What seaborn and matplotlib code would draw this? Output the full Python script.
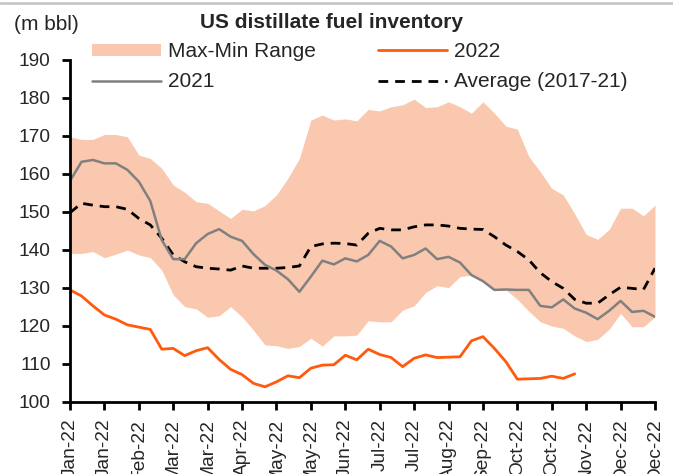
import matplotlib
matplotlib.use("Agg")
import matplotlib.pyplot as plt
from matplotlib.lines import Line2D
from matplotlib.patches import Patch
import numpy as np
import pandas as pd
import seaborn as sns

sns.set_style("ticks")
plt.rcParams["font.family"] = ["Liberation Sans", "DejaVu Sans"]

# weekly values, m bbl
y2022 = [129.5, 127.9, 125.3, 122.9, 121.8, 120.3, 119.7, 119.1, 113.9, 114.1,
         112.2, 113.5, 114.3, 111.2, 108.6, 107.2, 104.9, 104.0, 105.3, 106.9,
         106.4, 108.9, 109.7, 109.8, 112.3, 111.1, 113.9, 112.5, 111.7, 109.3,
         111.5, 112.4, 111.7, 111.8, 111.9, 116.1, 117.2, 114.1, 110.6, 106.0,
         106.1, 106.2, 106.8, 106.2, 107.4]
y2021 = [158.2, 163.2, 163.7, 162.8, 162.8, 161.1, 158.0, 152.9, 142.6, 137.6,
         137.6, 141.8, 144.2, 145.5, 143.5, 142.4, 138.9, 136.1, 134.6, 132.3,
         129.0, 133.0, 137.2, 136.2, 137.8, 137.0, 138.7, 142.4, 140.9, 137.8,
         138.7, 140.4, 137.6, 138.2, 136.7, 133.4, 131.8, 129.5, 129.6, 129.5,
         129.5, 125.3, 124.9, 127.0, 124.6, 123.5, 121.8, 124.0, 126.6, 123.7,
         124.0, 122.4]
avg = [149.8, 152.3, 151.8, 151.4, 151.4, 150.7, 148.3, 146.6, 143.1, 138.7,
       136.9, 135.6, 135.2, 135.0, 134.7, 135.8, 135.2, 135.2, 135.2, 135.4,
       135.8, 140.9, 141.6, 141.8, 141.7, 141.3, 144.4, 145.7, 145.3, 145.3,
       146.1, 146.6, 146.6, 146.3, 145.7, 145.5, 145.4, 143.5, 141.3, 139.6,
       137.4, 134.0, 131.7, 129.9, 127.0, 126.0, 126.0, 128.2, 130.2, 129.9,
       129.6, 135.2]
rng_max = [169.8, 169.1, 169.1, 170.4, 170.4, 169.8, 165.0, 164.1, 161.5, 157.1,
           155.2, 152.7, 152.3, 150.3, 148.3, 150.7, 150.3, 151.7, 154.5, 158.9,
           164.1, 174.2, 175.5, 174.2, 174.5, 174.0, 177.0, 176.6, 177.7, 178.2,
           179.7, 177.5, 177.7, 179.0, 177.7, 176.0, 179.0, 176.0, 172.6, 171.8,
           164.6, 160.6, 156.2, 154.5, 149.5, 144.1, 142.8, 145.4, 151.0, 151.0,
           149.0, 151.8]
rng_min = [139.1, 139.1, 139.6, 138.0, 138.9, 140.0, 138.7, 138.0, 134.7, 128.2,
           125.1, 124.5, 122.3, 122.7, 125.1, 122.4, 118.9, 115.0, 114.8, 114.1,
           114.6, 116.8, 114.7, 117.4, 117.4, 117.6, 121.4, 121.1, 121.1, 124.2,
           125.3, 128.8, 130.6, 130.1, 133.0, 133.4, 131.8, 129.5, 129.5, 127.0,
           123.9, 121.1, 120.0, 119.4, 117.4, 115.9, 116.5, 119.1, 123.3, 119.8,
           119.8, 122.4]
tick_labels = ["Jan-22", "Jan-22", "Feb-22", "Mar-22", "Mar-22", "Apr-22",
               "May-22", "May-22", "Jun-22", "Jul-22", "Jul-22", "Aug-22",
               "Sep-22", "Oct-22", "Oct-22", "Nov-22", "Dec-22", "Dec-22"]

weeks = np.arange(len(y2021))
df = pd.DataFrame({"week": weeks, "y2021": y2021, "avg": avg,
                   "max": rng_max, "min": rng_min})
df22 = pd.DataFrame({"week": np.arange(len(y2022)), "y2022": y2022})

c_fill = "#FAC8AE"
c_22 = "#FF5A0E"
c_21 = "#808080"
dash = (0, (3.5, 2.5))

fig = plt.figure(figsize=(6.73, 4.74), dpi=100)
ax = fig.add_axes([70 / 673, 1 - 402 / 474, 585 / 673, 342 / 474])

ax.fill_between(df["week"], df["min"], df["max"], color=c_fill, lw=0)
sns.lineplot(data=df, x="week", y="avg", ax=ax, color="black", lw=2.0,
             linestyle=dash)
sns.lineplot(data=df, x="week", y="y2021", ax=ax, color=c_21, lw=1.8)
sns.lineplot(data=df22, x="week", y="y2022", ax=ax, color=c_22, lw=2.0)

ax.set_xlim(0, 51)
ax.set_ylim(100, 190)
ax.set_yticks(range(100, 191, 10))
ax.set_xticks(range(0, 52, 3))
ax.set_xticklabels(tick_labels, rotation=90)
ax.tick_params(axis="both", labelsize=13.8, width=2, length=6, color="black")
ax.tick_params(axis="y", pad=8)
ax.tick_params(axis="x", pad=6)
ax.set_xlabel("")
ax.set_ylabel("")
sns.despine(ax=ax)
for s in ["left", "bottom"]:
    ax.spines[s].set_linewidth(2)
    ax.spines[s].set_color("black")

handles = [Patch(color=c_fill, lw=0),
           Line2D([], [], color=c_21, lw=1.8),
           Line2D([], [], color=c_22, lw=2.0),
           Line2D([], [], color="black", lw=2.0, linestyle=dash)]
labels = ["Max-Min Range", "2021", "2022", "Average (2017-21)"]
fig.legend(handles, labels, ncol=2, loc="upper left",
           bbox_to_anchor=(92 / 673, 1 - 42 / 474), frameon=False,
           fontsize=15, handlelength=3.3, handleheight=0.5,
           handletextpad=0.35, columnspacing=3.0, labelspacing=0.55,
           borderaxespad=0, borderpad=0)

fig.text(332 / 673, 1 - 23 / 474, "US distillate fuel inventory",
         ha="center", va="center", fontsize=15, fontweight="bold")
fig.text(14 / 673, 1 - 25 / 474, "(m bbl)", ha="left", va="center",
         fontsize=15)
fig.add_artist(Line2D([0, 1], [1 - 2.5 / 474, 1 - 2.5 / 474],
                      color="#C8C8C8", lw=2, transform=fig.transFigure))

fig.savefig("out.png", dpi=100)
